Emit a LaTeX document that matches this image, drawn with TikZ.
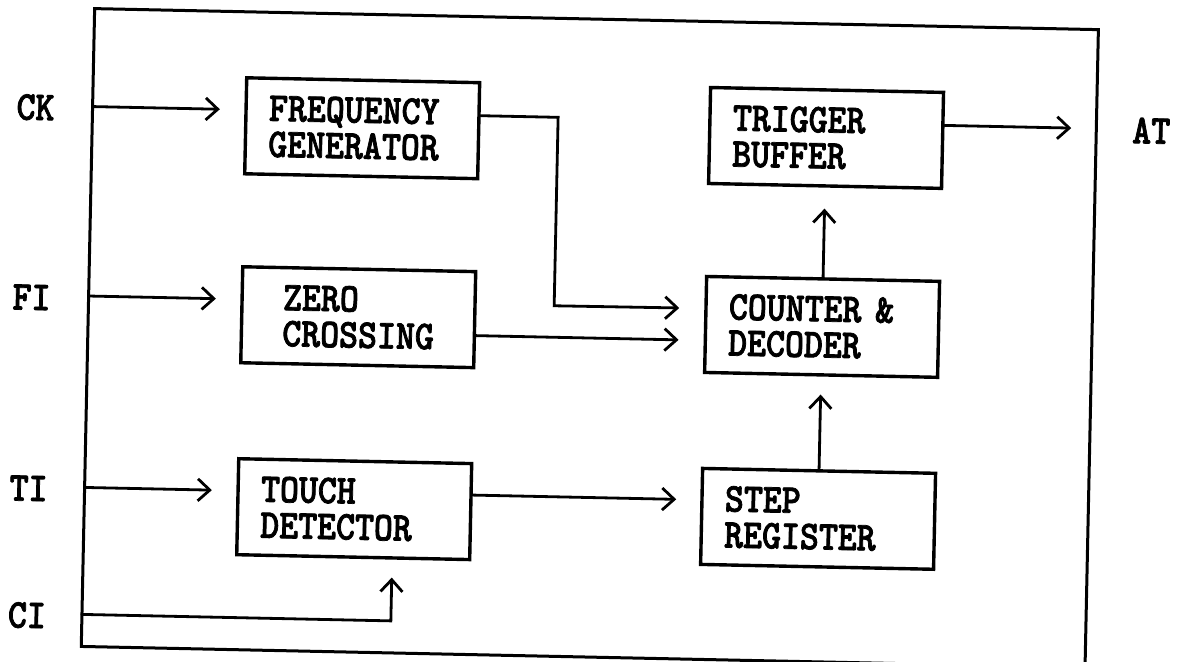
\documentclass[tikz,border=0pt]{standalone}
\usepackage{fontspec}
\usetikzlibrary{arrows.meta}
\newfontfamily\blkfont{lmmonolt10-bold.otf}[FakeStretch=0.88, FakeBold=1.8]
\begin{document}
\begin{tikzpicture}[x=1pt,y=1pt,
  txt/.style={font=\blkfont\fontsize{41pt}{36pt}\selectfont},
  blk/.style={txt, draw, line width=3.4pt, minimum width=233pt, minimum height=96pt,
    text width=187pt, inner xsep=23pt, inner ysep=0pt, align=left},
  lbl/.style={txt, inner sep=0pt},
  arr/.style={line width=2.8pt, line cap=round, -{Straight Barb[length=12pt,width=22pt]}}]
\useasboundingbox (0,0) rectangle (1177,-661);
\clip (0,0) rectangle (1177,-661);
\begin{scope}[rotate around={-1.2:(588,-330)}, transform shape]
  % outer frame
  \node[draw, line width=3pt, minimum width=1004pt, minimum height=638pt, inner sep=0pt] (frame) at (590,-338) {};
  % blocks
  \node[blk] (fg) at (358,-133) {FREQUENCY\\GENERATOR};
  \node[blk] (zc) at (358,-322) {\hspace*{18pt}ZERO\\\hspace*{18pt}CROSSING};
  \node[blk] (td) at (358,-514) {TOUCH\\DETECTOR};
  \node[blk] (tb) at (822,-133) {TRIGGER\\BUFFER};
  \node[blk] (cd) at (822,-322) {COUNTER \&\\DECODER};
  \node[blk] (sr) at (822,-514) {STEP\\REGISTER};
  % labels
  \node[lbl] (ck) at (31,-119) {CK};
  \node[lbl] (fi) at (31,-309) {FI};
  \node[lbl] (ti) at (32,-500) {TI};
  \node[lbl] (ci) at (33,-627) {CI};
  \node[lbl] (at) at (1147,-119) {AT};
  % coordinates on the frame
  \coordinate (ckin) at (88,-117);
  \coordinate (fiin) at (88,-306.5);
  \coordinate (tiin) at (88,-498);
  \coordinate (ciin) at (88,-625);
  \coordinate (cicorner) at (397,-625);
  \coordinate (atend) at (1067,-118);
  % connectors
  \draw[arr, shorten >=24.5pt] (ckin) -- ([yshift=16pt]fg.west);
  \draw[arr, shorten >=24.5pt] (fiin) -- ([yshift=15.5pt]zc.west);
  \draw[arr, shorten >=24.5pt] (tiin) -- ([yshift=16pt]td.west);
  \draw[arr, shorten >=18pt] (ciin) -- (cicorner) -- ([xshift=39pt]td.south);
  \draw[arr, shorten >=25pt] ([yshift=15pt]fg.east) -- ++(77.5,0) -- ++(0,-188.5) -- ([yshift=16pt]cd.west);
  \draw[arr, shorten >=25pt] ([yshift=-16pt]zc.east) -- ([yshift=-16pt]cd.west);
  \draw[arr, shorten >=24pt] ([yshift=16.5pt]td.east) -- ([yshift=16.5pt]sr.west);
  \draw[arr, shorten >=18pt] (sr.north) -- (cd.south);
  \draw[arr, shorten >=21pt] (cd.north) -- (tb.south);
  \draw[arr] ([yshift=15pt]tb.east) -- (atend);
\end{scope}
\end{tikzpicture}
\end{document}
